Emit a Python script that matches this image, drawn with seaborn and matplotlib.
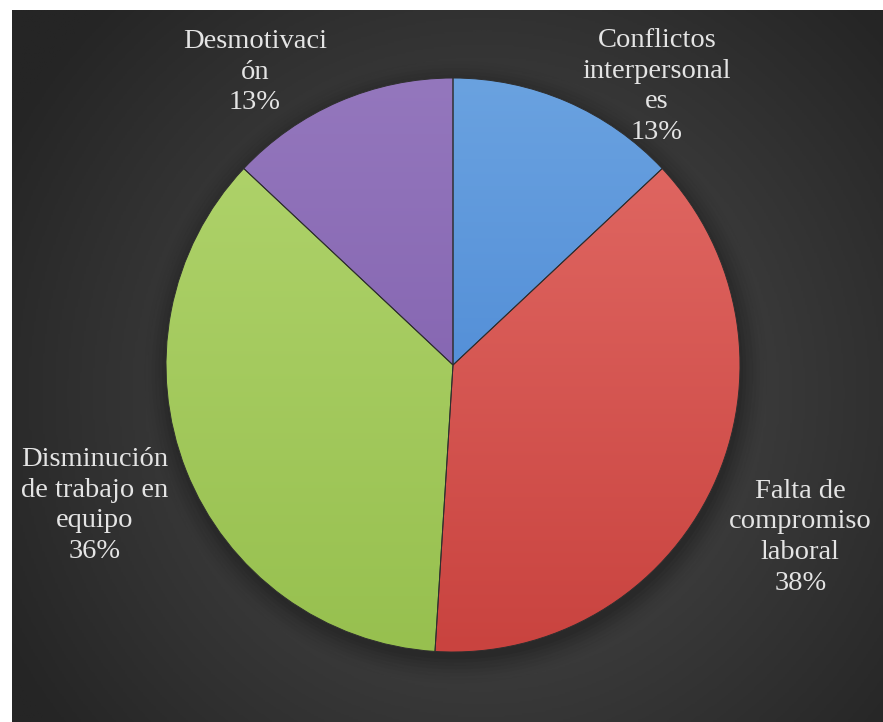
import numpy as np
import matplotlib
matplotlib.use("Agg")
import matplotlib.pyplot as plt
import matplotlib.colors as mcolors
import seaborn as sns

categories = ["Conflictos\ninterpersonal\nes", "Falta de\ncompromiso\nlaboral",
              "Disminución\nde trabajo en\nequipo", "Desmotivaci\nón"]
shares = [13, 38, 36, 13]
top_colors = ["#6aa2e0", "#e36c67", "#b2d56e", "#9477bd"]
bottom_colors = ["#3f7ed0", "#c9433f", "#97c04f", "#7a58a8"]
# label anchor points in pie-radius units
label_xy = [(0.71, 0.97), (1.21, -0.60), (-1.25, -0.49), (-0.69, 1.02)]

sns.set_theme(style="white")
plt.rcParams["font.family"] = ["Liberation Serif", "DejaVu Serif"]

W, H, DPI = 883, 722, 100
fig = plt.figure(figsize=(W / DPI, H / DPI), dpi=DPI)
fig.patch.set_facecolor("white")

R = 287.0
cx, cy = 453.0, 365.0
ax = fig.add_axes([0, 0, 1, 1])
ax.set_xlim(-cx / R, (W - cx) / R)
ax.set_ylim(-(H - cy) / R, cy / R)
ax.set_aspect("equal")
ax.axis("off")

# dark radial backdrop inside the white frame
x0, x1 = (12 - cx) / R, (W - cx) / R
y0, y1 = -(H - cy) / R, (cy - 10) / R
gx = np.linspace(x0, x1, 400)
gy = np.linspace(y0, y1, 400)
GX, GY = np.meshgrid(gx, gy)
dist = np.sqrt((GX - 0.1) ** 2 + (GY + 0.1) ** 2) / 1.9
dist = np.clip(dist, 0, 1)
bg = mcolors.LinearSegmentedColormap.from_list("bg", ["#4a4a4a", "#3a3a3a", "#252525"])
ax.imshow(dist, extent=[x0, x1, y0, y1], origin="lower", cmap=bg,
          vmin=0, vmax=1, zorder=0, aspect="auto")

# soft shadow under the pie
for k, a in enumerate(np.linspace(0.05, 0.012, 8)):
    ax.add_patch(plt.Circle((0.01, -0.025), 1.0 + 0.012 * k, color="black",
                            alpha=a, lw=0, zorder=1))

wedges, texts = ax.pie(shares, labels=categories, startangle=90, counterclock=False,
                       colors=top_colors, radius=1.0,
                       wedgeprops=dict(edgecolor="#2e2e2e", linewidth=0.7, zorder=2),
                       textprops=dict(color="#e4e4e4", fontsize=20.5,
                                      ha="center", va="center", linespacing=1.3))

ramp = np.linspace(0, 1, 256).reshape(-1, 1)
for w, ct, cb in zip(wedges, top_colors, bottom_colors):
    cmap = mcolors.LinearSegmentedColormap.from_list("g", [cb, ct])
    im = ax.imshow(ramp, extent=[-1, 1, -1, 1], origin="lower", cmap=cmap,
                   zorder=2.5, aspect="auto")
    im.set_clip_path(w)
    w.set_zorder(3)
    w.set_facecolor("none")

ax.set_xlim(-cx / R, (W - cx) / R)
ax.set_ylim(-(H - cy) / R, cy / R)

for t, cat, pct, (lx, ly) in zip(texts, categories, shares, label_xy):
    t.set_text(f"{cat}\n{pct}%")
    t.set_position((lx, ly))
    t.set_ha("center")
    t.set_va("center")
    t.set_multialignment("center")
    t.set_zorder(5)

fig.savefig("out.png", dpi=DPI, facecolor="white")
